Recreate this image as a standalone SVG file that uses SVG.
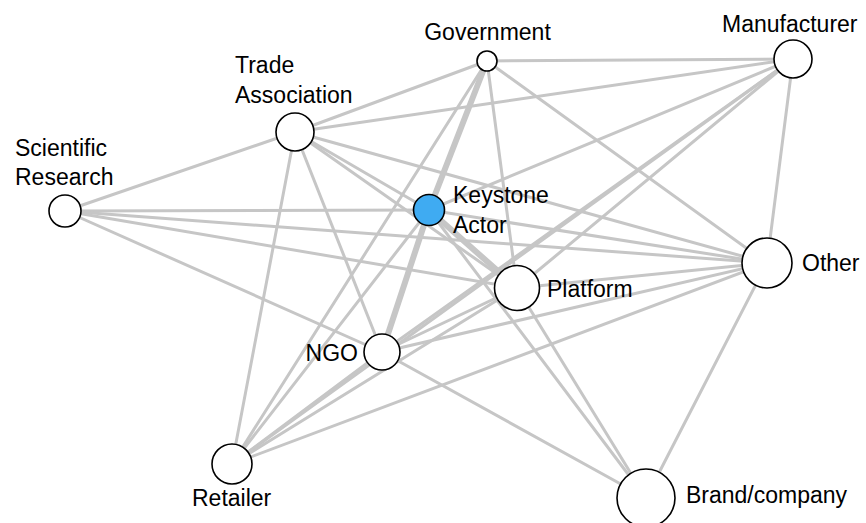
<svg xmlns="http://www.w3.org/2000/svg" width="866" height="523" viewBox="0 0 866 523">
<style>
.e{stroke:#c6c6c6;stroke-width:3;fill:none;stroke-linecap:round}
.t{stroke-width:6}
.n{fill:#fff;stroke:#000;stroke-width:1.6}
.k{fill:#3fabf2}
text{font-family:"Liberation Sans",Arial,sans-serif;font-size:23px;fill:#000}
</style>
<rect width="866" height="523" fill="#fff"/>
<g id="edges">
<line class="e" x1="487" y1="61" x2="793" y2="59"/>
<line class="e" x1="487" y1="61" x2="295" y2="132"/>
<line class="e" x1="487" y1="61" x2="767" y2="263"/>
<line class="e" x1="487" y1="61" x2="517" y2="288"/>
<line class="e" x1="487" y1="61" x2="232" y2="464"/>
<line class="e" x1="793" y1="59" x2="295" y2="132"/>
<line class="e" x1="793" y1="59" x2="429" y2="210"/>
<line class="e" x1="793" y1="59" x2="382" y2="352"/>
<line class="e" x1="793" y1="59" x2="517" y2="288"/>
<line class="e" x1="793" y1="59" x2="232" y2="464"/>
<line class="e" x1="793" y1="59" x2="767" y2="263"/>
<line class="e" x1="295" y1="132" x2="65" y2="211"/>
<line class="e" x1="295" y1="132" x2="767" y2="263"/>
<line class="e" x1="295" y1="132" x2="429" y2="210"/>
<line class="e" x1="295" y1="132" x2="517" y2="288"/>
<line class="e" x1="295" y1="132" x2="382" y2="352"/>
<line class="e" x1="295" y1="132" x2="232" y2="464"/>
<line class="e" x1="65" y1="211" x2="429" y2="210"/>
<line class="e" x1="65" y1="211" x2="767" y2="263"/>
<line class="e" x1="65" y1="211" x2="517" y2="288"/>
<line class="e" x1="65" y1="211" x2="382" y2="352"/>
<line class="e" x1="429" y1="210" x2="767" y2="263"/>
<line class="e" x1="429" y1="210" x2="232" y2="464"/>
<line class="e" x1="429" y1="210" x2="646" y2="498"/>
<line class="e" x1="517" y1="288" x2="767" y2="263"/>
<line class="e" x1="517" y1="288" x2="382" y2="352"/>
<line class="e" x1="517" y1="288" x2="232" y2="464"/>
<line class="e" x1="517" y1="288" x2="646" y2="498"/>
<line class="e" x1="767" y1="263" x2="382" y2="352"/>
<line class="e" x1="767" y1="263" x2="232" y2="464"/>
<line class="e" x1="767" y1="263" x2="646" y2="498"/>
<line class="e" x1="382" y1="352" x2="646" y2="498"/>
<line class="e" x1="382" y1="352" x2="232" y2="464"/>
<line class="e t" x1="487" y1="61" x2="429" y2="210"/>
<line class="e t" x1="429" y1="210" x2="382" y2="352"/>
<line class="e t" x1="429" y1="210" x2="517" y2="288"/>
</g>
<g id="government"><circle class="n" cx="487" cy="61" r="10"/><text x="487.5" y="40" text-anchor="middle">Government</text></g>
<g id="manufacturer"><circle class="n" cx="793" cy="59" r="19"/><text x="722" y="32">Manufacturer</text></g>
<g id="trade-association"><circle class="n" cx="295" cy="132" r="19"/><text x="235" y="73">Trade</text><text x="235" y="103">Association</text></g>
<g id="scientific-research"><circle class="n" cx="65" cy="211" r="16"/><text x="15" y="156">Scientific</text><text x="15" y="185">Research</text></g>
<g id="keystone-actor"><circle class="n k" cx="429" cy="210" r="15.5"/><text x="453" y="203">Keystone</text><text x="453" y="233">Actor</text></g>
<g id="platform"><circle class="n" cx="517" cy="288" r="22.5"/><text x="547" y="297">Platform</text></g>
<g id="other"><circle class="n" cx="767" cy="263" r="25"/><text x="802" y="271">Other</text></g>
<g id="ngo"><circle class="n" cx="382" cy="352" r="18"/><text x="358" y="361" text-anchor="end">NGO</text></g>
<g id="retailer"><circle class="n" cx="232" cy="464" r="20"/><text x="192" y="506">Retailer</text></g>
<g id="brand-company"><circle class="n" cx="646" cy="498" r="29"/><text x="686" y="503">Brand/company</text></g>
</svg>
